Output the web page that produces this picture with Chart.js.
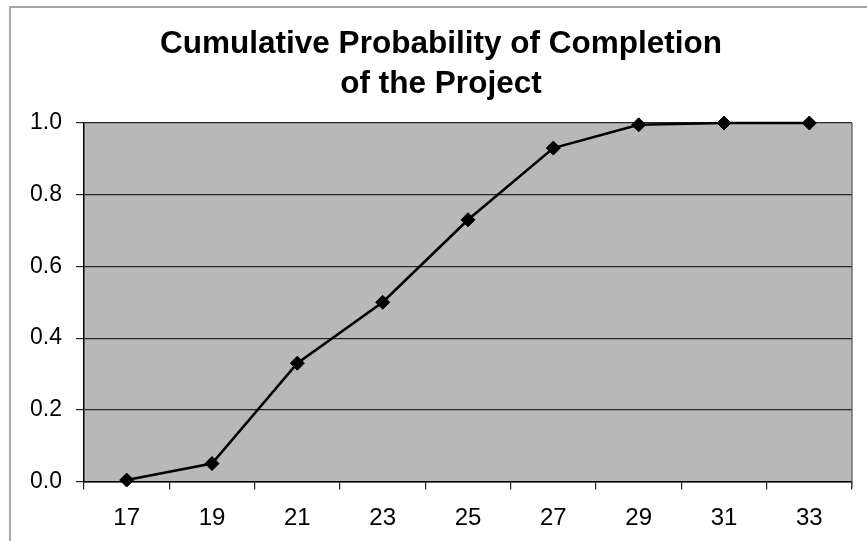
<!DOCTYPE html>
<html>
<head>
<meta charset="utf-8">
<script src="https://cdn.jsdelivr.net/npm/chart.js@4/dist/chart.umd.min.js"></script>
<style>
  html, body { margin: 0; padding: 0; background: #ffffff; }
  #wrap { width: 867px; height: 541px; }
</style>
</head>
<body>
<div id="wrap"><canvas id="c" width="867" height="541"></canvas></div>
<script>
const titleLines = ['Cumulative Probability of Completion', 'of the Project'];
const categories = ['17', '19', '21', '23', '25', '27', '29', '31', '33'];
const probability = [0.004, 0.05, 0.33, 0.50, 0.73, 0.93, 0.995, 1.0, 1.0];
const yTicks = [0, 0.2, 0.4, 0.6, 0.8, 1.0];

const decor = {
  id: 'decor',
  beforeDraw(chart) {
    const ctx = chart.ctx;
    const a = chart.chartArea;
    ctx.save();
    ctx.fillStyle = '#ffffff';
    ctx.fillRect(0, 0, chart.width, chart.height);
    // outer frame
    ctx.strokeStyle = '#8a8a8a';
    ctx.lineWidth = 1.5;
    ctx.strokeRect(10, 7, chart.width + 20, chart.height + 20);
    // plot background
    ctx.fillStyle = '#b8b8b8';
    ctx.fillRect(a.left, a.top, a.right - a.left, a.bottom - a.top);
    ctx.restore();
  },
  afterDraw(chart) {
    const ctx = chart.ctx;
    const a = chart.chartArea;
    ctx.save();
    // right border of plot
    ctx.strokeStyle = '#555555';
    ctx.lineWidth = 1.2;
    ctx.beginPath();
    ctx.moveTo(a.right, a.top);
    ctx.lineTo(a.right, a.bottom + 6);
    ctx.stroke();
    // title
    ctx.fillStyle = '#000000';
    ctx.font = 'bold 31px "Liberation Sans", Arial, sans-serif';
    ctx.textAlign = 'center';
    ctx.textBaseline = 'alphabetic';
    const w = ctx.measureText(titleLines[0]).width;
    const sx = 562 / w;
    const baselines = [53, 93];
    titleLines.forEach((t, i) => {
      ctx.save();
      ctx.translate(441, baselines[i]);
      ctx.scale(sx, 1);
      ctx.fillText(t, 0, 0);
      ctx.restore();
    });
    ctx.restore();
  }
};

new Chart(document.getElementById('c'), {
  type: 'line',
  data: {
    labels: categories,
    datasets: [{
      data: probability,
      borderColor: '#000000',
      borderWidth: 2.6,
      pointStyle: 'rectRot',
      pointRadius: 7,
      pointBackgroundColor: '#000000',
      pointBorderColor: '#000000',
      pointBorderWidth: 1,
      tension: 0,
      fill: false,
      clip: false
    }]
  },
  options: {
    responsive: false,
    animation: false,
    devicePixelRatio: 1,
    layout: { padding: { left: 0, right: 15, top: 123, bottom: 0 } },
    plugins: {
      legend: { display: false },
      title: { display: false },
      tooltip: { enabled: false }
    },
    scales: {
      x: {
        type: 'category',
        offset: true,
        grid: {
          offset: true,
          drawOnChartArea: false,
          drawTicks: true,
          tickLength: 8,
          color: '#222222',
          lineWidth: 1.2
        },
        border: { display: true, color: '#000000', width: 1.5 },
        ticks: {
          color: '#000000',
          font: { family: '"Liberation Sans", Arial, sans-serif', size: 24 },
          padding: 14,
          maxRotation: 0
        },
        afterFit(scale) { scale.height = 59.5; }
      },
      y: {
        min: 0,
        max: 1,
        afterBuildTicks(scale) { scale.ticks = yTicks.map(v => ({ value: v })); },
        grid: {
          drawTicks: true,
          tickLength: 8,
          color: '#262626',
          lineWidth: 1.2
        },
        border: { display: true, color: '#000000', width: 1.5 },
        ticks: {
          color: '#000000',
          font: { family: '"Liberation Sans", Arial, sans-serif', size: 23 },
          padding: 14,
          callback: v => Number(v).toFixed(1)
        },
        afterFit(scale) { scale.width = 84; }
      }
    }
  },
  plugins: [decor]
});
</script>
</body>
</html>
